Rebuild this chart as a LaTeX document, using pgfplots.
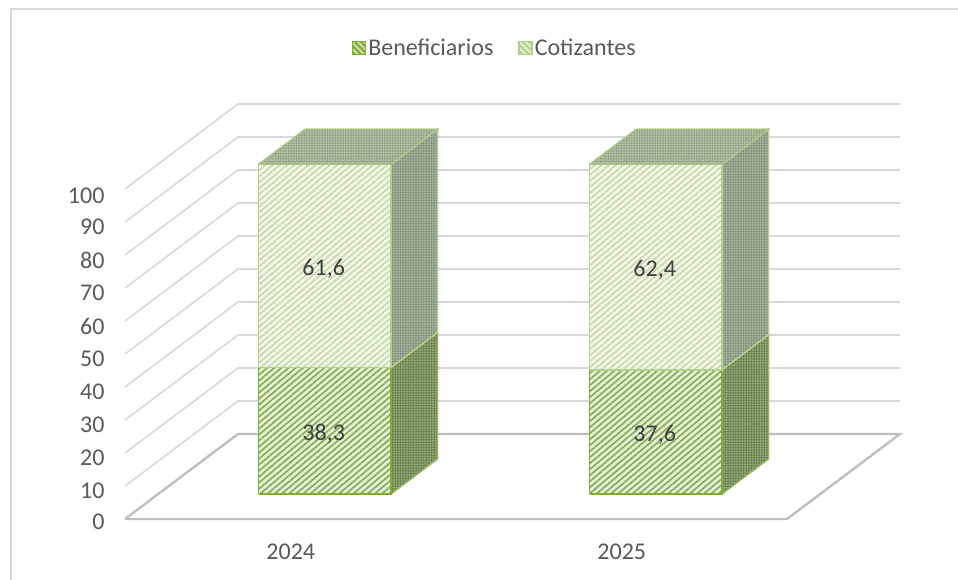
\documentclass[border=0pt]{standalone}
\usepackage{fontspec}
\setmainfont{Carlito}
\usepackage{pgfplots}
\pgfplotsset{compat=1.18}
\usetikzlibrary{patterns.meta}
\definecolor{gridc}{HTML}{D9D9D9}
\definecolor{floorc}{HTML}{BFBFBF}
\definecolor{txt}{HTML}{595959}
\definecolor{lab}{HTML}{404040}
\tikzset{
  bfront/.style={draw={rgb,255:red,127;green,172;blue,52},line width=1.6pt,fill={rgb,255:red,230;green,243;blue,212},
    postaction={pattern={Lines[angle=40,distance=4.6pt,line width=1.7pt]},pattern color={rgb,255:red,136;green,170;blue,90}}},
  cfront/.style={draw={rgb,255:red,180;green,208;blue,142},line width=1.6pt,fill={rgb,255:red,242;green,248;blue,233},
    postaction={pattern={Lines[angle=40,distance=4.6pt,line width=1.7pt]},pattern color={rgb,255:red,200;green,219;blue,174}}},
  bside/.style={draw={rgb,255:red,150;green,185;blue,100},line width=1.2pt,fill={rgb,255:red,140;green,160;blue,112},
    postaction={pattern={Dots[distance=2.6pt,radius=0.8pt]},pattern color={rgb,255:red,85;green,105;blue,60}}},
  cside/.style={draw={rgb,255:red,180;green,208;blue,142},line width=1.2pt,fill={rgb,255:red,160;green,172;blue,150},
    postaction={pattern={Dots[distance=2.6pt,radius=0.8pt]},pattern color={rgb,255:red,120;green,132;blue,112}}},
  ctop/.style={draw={rgb,255:red,170;green,200;blue,135},line width=1.2pt,fill={rgb,255:red,175;green,188;blue,162},
    postaction={pattern={Dots[distance=2.6pt,radius=0.8pt]},pattern color={rgb,255:red,132;green,146;blue,122}}},
}
% one stacked block: x-left, x-right, z-bottom, z-top, front style, side style
\newcommand{\block}[6]{%
  \addplot3[forget plot,#6] coordinates {(#2,0.294,#3)(#2,0.706,#3)(#2,0.706,#4)(#2,0.294,#4)(#2,0.294,#3)};
  \addplot3[forget plot,#5] coordinates {(#1,0.294,#3)(#2,0.294,#3)(#2,0.294,#4)(#1,0.294,#4)(#1,0.294,#3)};
}
\newcommand{\blocktop}[3]{%
  \addplot3[forget plot,#3] coordinates {(#1,0.294,99.9)(#2,0.294,99.9)(#2,0.706,99.9)(#1,0.706,99.9)(#1,0.294,99.9)};
}
\begin{document}
\begin{tikzpicture}[x=1pt,y=1pt]
\useasboundingbox (0,0) rectangle (958,580);
\fill[white] (0,0) rectangle (958,580);
\draw[gridc,line width=1.6pt] (11,0) -- (11,571) -- (958,571);
\begin{axis}[
  at={(125pt,61pt)},anchor=south west,
  x={(331pt,0pt)},y={(113pt,85pt)},z={(0pt,3.3pt)},
  xmin=2023.5,xmax=2025.5,ymin=0,ymax=1,zmin=0,zmax=100,
  clip=false,
  axis line style={draw=none},
  major tick length=0pt,
  tick style={draw=none},
  xtick={2024,2025},xticklabels={2024,2025},
  ytick=\empty,
  ztick={0,10,...,100},
  /pgf/number format/assume math mode=true,
  tick label style={font=\fontsize{24}{28}\selectfont,text=txt},
  every x tick label/.append style={yshift=-21pt,xshift=6pt},
  every z tick label/.append style={xshift=-17pt},
  legend style={at={(0.477,1.135)},anchor=center,draw=none,fill=none,
    font=\fontsize{24}{28}\selectfont,text=txt,legend columns=2,
    /tikz/every even column/.append style={column sep=23pt}},
  legend image code/.code={\draw[#1,line width=1.4pt] (0pt,-6.5pt) rectangle (13pt,6.5pt);},
]
% walls
\pgfplotsinvokeforeach{10,20,...,100}{
  \addplot3[forget plot,gridc,line width=1.6pt,mark=none] coordinates {(2023.5,0,#1)(2023.5,1,#1)(2025.5,1,#1)};
}
\addplot3[forget plot,floorc,line width=2.4pt,mark=none] coordinates {(2023.5,0,0)(2025.5,0,0)(2025.5,1,0)(2023.5,1,0)(2023.5,0,0)};
% 2024
\block{2023.803}{2024.203}{0}{38.3}{bfront}{bside}
\block{2023.803}{2024.203}{38.3}{99.9}{cfront}{cside}
\blocktop{2023.803}{2024.203}{ctop}
% 2025
\block{2024.803}{2025.203}{0}{37.6}{bfront}{bside}
\block{2024.803}{2025.203}{37.6}{99.9}{cfront}{cside}
\blocktop{2024.803}{2025.203}{ctop}
\addlegendimage{draw={rgb,255:red,127;green,172;blue,52},fill={rgb,255:red,135;green,178;blue,60},postaction={pattern={Lines[angle=-45,distance=4.4pt,line width=1.6pt]},pattern color={rgb,255:red,210;green,230;blue,180}}}
\addlegendentry{Beneficiarios}
\addlegendimage{draw={rgb,255:red,180;green,208;blue,142},fill={rgb,255:red,185;green,212;blue,150},postaction={pattern={Lines[angle=-45,distance=4.4pt,line width=1.6pt]},pattern color={rgb,255:red,232;green,242;blue,218}}}
\addlegendentry{Cotizantes}
\node[font=\fontsize{24}{28}\selectfont,text=lab,yshift=-3pt] at (axis cs:2024,0.294,19.15) {38,3};
\node[font=\fontsize{24}{28}\selectfont,text=lab,yshift=-3pt] at (axis cs:2024,0.294,69.1) {61,6};
\node[font=\fontsize{24}{28}\selectfont,text=lab,yshift=-3pt] at (axis cs:2025,0.294,18.8) {37,6};
\node[font=\fontsize{24}{28}\selectfont,text=lab,yshift=-3pt] at (axis cs:2025,0.294,68.8) {62,4};
\end{axis}
\end{tikzpicture}
\end{document}
